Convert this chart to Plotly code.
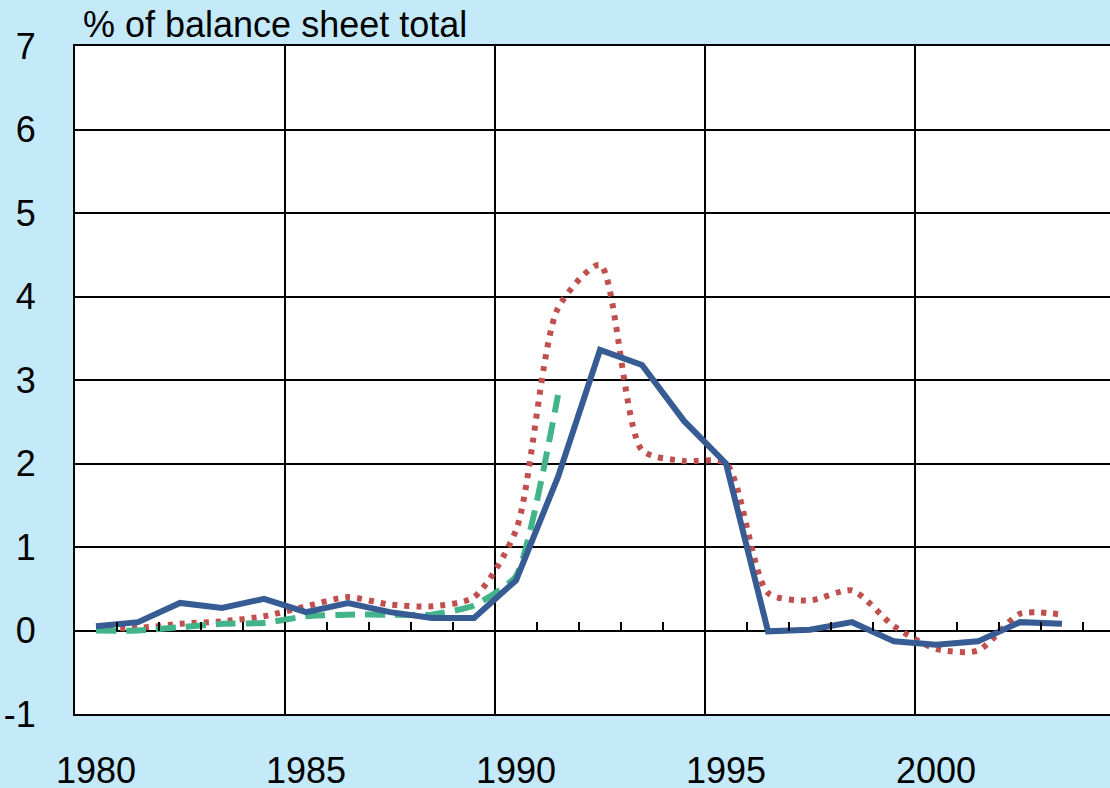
import plotly.graph_objects as go

years = list(range(1980, 2004))
blue_vals = [0.05, 0.10, 0.33, 0.27, 0.38, 0.22, 0.33, 0.22, 0.15, 0.15,
             0.60, 1.84, 3.36, 3.18, 2.51, 2.00, -0.01, 0.01, 0.10, -0.13,
             -0.17, -0.13, 0.10, 0.08]
red_vals = [0.03, 0.03, 0.08, 0.11, 0.17, 0.29, 0.40, 0.31, 0.29, 0.40,
            1.20, 3.86, 4.38, 2.16, 2.03, 2.00, 0.45, 0.36, 0.48, 0.05,
            -0.22, -0.24, 0.20, 0.19]
green_years = list(range(1980, 1992))
green_vals = [0.0, 0.0, 0.04, 0.08, 0.09, 0.17, 0.19, 0.19, 0.19, 0.30, 0.65, 2.82]

label_years = [1980, 1985, 1990, 1995, 2000]
grid_bounds = [1979.5, 1984.5, 1989.5, 1994.5, 1999.5]
year_bounds = [1979.5 + k for k in range(26)]
y_ticks = list(range(-1, 8))
y_ticktext = ["-1", "0", "1", "2", "3", "4", "5", "6", "7"]
title_text = "% of balance sheet total"

FONT = "Liberation Sans, Arial, sans-serif"
BG = "#C4EAF9"
xrange = [1979.5, 1979.5 + 1035 / 42.0]

fig = go.Figure()
fig.add_trace(go.Scatter(x=years, y=red_vals, mode="lines",
                         line=dict(color="#C0504D", width=6, dash="5px,7px",
                                   shape="spline", smoothing=0.7),
                         showlegend=False))
fig.add_trace(go.Scatter(x=green_years, y=green_vals, mode="lines",
                         line=dict(color="#43B489", width=6, dash="20px,10px",
                                   shape="spline", smoothing=0.5),
                         showlegend=False))
fig.add_trace(go.Scatter(x=years, y=blue_vals, mode="lines",
                         line=dict(color="#375B93", width=6),
                         showlegend=False))
# invisible trace on the zero-line tick axis
fig.add_trace(go.Scatter(x=[years[0]], y=[0], mode="markers", xaxis="x2",
                         marker=dict(opacity=0), showlegend=False, hoverinfo="skip"))

fig.update_layout(
    width=1110, height=788,
    margin=dict(l=75, r=0, t=46, b=74, autoexpand=False),
    paper_bgcolor=BG,
    plot_bgcolor="#FFFFFF",
    font=dict(family=FONT, size=36, color="#000000"),
    xaxis=dict(
        range=xrange, tickmode="array", tickvals=label_years,
        ticktext=[str(y) for y in label_years], automargin=False,
        showgrid=False, zeroline=False, ticks="", ticklabelstandoff=24,
        showline=True, mirror=True, linecolor="#000000", linewidth=2,
        minor=dict(tickmode="array", tickvals=grid_bounds, showgrid=True,
                   gridcolor="#000000", gridwidth=1.5, ticks=""),
        tickfont=dict(family=FONT, size=36),
    ),
    xaxis2=dict(
        range=xrange, overlaying="x", anchor="free", position=0.125,
        tickmode="array", tickvals=year_bounds, ticks="inside", ticklen=9,
        tickwidth=1.5, tickcolor="#000000", showticklabels=False,
        showgrid=False, zeroline=False, showline=False, automargin=False,
    ),
    yaxis=dict(
        range=[-1, 7], tickmode="array", tickvals=y_ticks, ticktext=y_ticktext,
        showgrid=True, gridcolor="#000000", gridwidth=1.5, automargin=False,
        zeroline=True, zerolinecolor="#000000", zerolinewidth=2,
        showline=True, linecolor="#000000", linewidth=2,
        ticks="", ticklabelstandoff=30,
        tickfont=dict(family=FONT, size=36),
    ),
    annotations=[dict(text=title_text, xref="paper", yref="paper",
                      x=0.006, y=1.032, xanchor="left", yanchor="middle",
                      showarrow=False, font=dict(family=FONT, size=36))],
)

post = (
    "var h=document.documentElement,b=document.body;"
    "h.style.margin='0';h.style.padding='0';h.style.overflow='hidden';"
    "b.style.margin='0';b.style.padding='0';b.style.overflow='hidden';"
    "b.style.lineHeight='0';"
    "h.style.background='" + BG + "';"
    "b.style.background='" + BG + "';"
    "document.querySelectorAll('.plotly-graph-div').forEach(function(d){"
    "d.style.display='block';});"
)
fig.write_html("out.html", post_script=post, config={"displayModeBar": False})
